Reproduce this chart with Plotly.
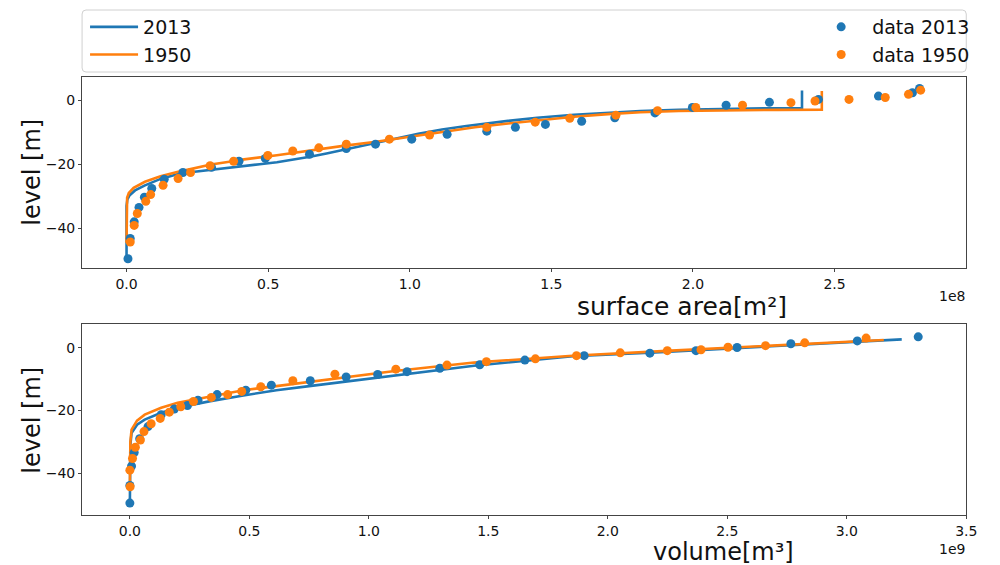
import plotly.graph_objects as go

# ---- fitted hypsometric curves: surface area (1e8 m^2) vs level (m) ----
area_curve_2013 = [0.0, 0.0, 0.0, 0.0, 0.003, 0.01, 0.03, 0.065, 0.12, 0.182, 0.24, 0.298, 0.357,
                   0.415, 0.47, 0.531, 0.59, 0.648, 0.706, 0.765, 0.823, 0.881, 0.95, 1.03, 1.114,
                   1.2, 1.347, 1.45, 1.58, 1.7, 1.814, 1.95, 2.1, 2.25, 2.385, 2.385]
level_area_2013 = [-49.5, -45.0, -40.0, -33.0, -31.0, -29.8, -28.2, -26.6, -24.6, -23.1, -22.35, -21.7, -21.1,
                   -20.5, -20.0, -19.4, -18.6, -17.7, -16.7, -15.6, -14.45, -13.3, -12.0, -10.5, -9.2,
                   -8.1, -6.5, -5.5, -4.6, -3.9, -3.4, -3.0, -2.7, -2.55, -2.5, 3.0]

area_curve_1950 = [0.0, 0.0, 0.0, 0.002, 0.008, 0.025, 0.065, 0.12, 0.182, 0.24, 0.298, 0.357, 0.415,
                   0.531, 0.648, 0.765, 0.881, 1.0, 1.114, 1.23, 1.347, 1.46, 1.58, 1.7, 1.814,
                   1.95, 2.1, 2.3, 2.455, 2.455]
level_area_1950 = [-44.5, -40.0, -32.0, -30.5, -29.0, -27.4, -25.5, -23.8, -22.4, -21.2, -20.1, -19.3, -18.5,
                   -17.2, -15.7, -14.3, -13.0, -11.4, -9.9, -8.5, -7.3, -6.2, -5.2, -4.4, -3.8,
                   -3.4, -3.15, -3.05, -3.0, 2.8]

# ---- measured surface area (1e8 m^2) vs level (m) ----
area_data_2013 = [0.005, 0.013, 0.027, 0.044, 0.063, 0.089, 0.133, 0.199, 0.30, 0.397, 0.49, 0.646,
                  0.776, 0.879, 1.007, 1.132, 1.272, 1.373, 1.479, 1.607, 1.724, 1.866, 1.998, 2.117,
                  2.27, 2.443, 2.655, 2.775, 2.80]
level_adata_2013 = [-49.5, -43.2, -38.0, -33.5, -30.3, -27.6, -24.7, -22.6, -21.0, -19.1, -18.2, -16.9,
                    -15.1, -13.75, -12.2, -10.7, -9.7, -8.5, -7.6, -6.6, -5.5, -4.0, -2.3, -1.6,
                    -0.7, 0.2, 1.25, 2.3, 3.6]

area_data_1950 = [0.013, 0.027, 0.038, 0.068, 0.085, 0.129, 0.182, 0.226, 0.295, 0.378, 0.499, 0.587,
                  0.679, 0.776, 0.928, 1.07, 1.272, 1.443, 1.565, 1.728, 1.875, 2.01, 2.175, 2.346,
                  2.431, 2.551, 2.679, 2.761, 2.804]
level_adata_1950 = [-44.3, -39.1, -35.4, -31.6, -29.5, -26.6, -24.5, -22.6, -20.5, -19.1, -17.3, -15.9,
                    -14.9, -13.75, -12.2, -10.9, -8.5, -6.9, -5.7, -4.7, -3.3, -2.3, -1.6, -0.8,
                    -0.3, 0.2, 0.8, 1.8, 3.1]

# ---- fitted curves: volume (1e9 m^3) vs level (m) ----
vol_curve_2013 = [0.0, 0.0, 0.0, 0.002, 0.007, 0.03, 0.062, 0.131, 0.2, 0.337, 0.475, 0.613, 0.75,
                  0.888, 1.109, 1.44, 1.853, 2.2, 2.555, 2.968, 3.23]
level_vol_2013 = [-49.5, -40.0, -35.0, -31.0, -27.2, -24.5, -22.9, -20.7, -19.1, -17.0, -15.2, -13.5,
                  -12.2, -10.9, -8.9, -5.7, -2.7, -1.5, 0.0, 1.6, 2.7]

vol_curve_1950 = [0.0, 0.0, 0.002, 0.007, 0.03, 0.062, 0.131, 0.2, 0.337, 0.475, 0.613, 0.75, 0.888,
                  1.109, 1.44, 1.853, 2.266, 2.6, 3.0, 3.155]
level_vol_1950 = [-44.0, -38.0, -30.0, -26.1, -23.2, -21.3, -19.1, -17.5, -15.4, -13.5, -12.2, -10.9,
                  -9.5, -7.4, -4.7, -2.5, -0.9, 0.4, 1.9, 2.5]

# ---- measured volume (1e9 m^3) vs level (m) ----
vol_data_2013 = [0.0, 0.0, 0.007, 0.018, 0.041, 0.076, 0.131, 0.186, 0.241, 0.285, 0.365, 0.485,
                 0.592, 0.755, 0.905, 1.037, 1.16, 1.297, 1.464, 1.653, 1.901, 2.176, 2.369, 2.541,
                 2.766, 3.044, 3.299]
level_vdata_2013 = [-49.5, -43.9, -37.7, -33.4, -29.0, -25.1, -21.3, -19.5, -18.4, -16.7, -14.9, -13.5,
                    -11.9, -10.5, -9.3, -8.5, -7.6, -6.5, -5.4, -3.9, -2.5, -1.7, -0.9, 0.1,
                    1.3, 2.2, 3.5]

vol_data_1950 = [0.001, 0.0, 0.011, 0.023, 0.044, 0.059, 0.089, 0.127, 0.165, 0.213, 0.266, 0.341,
                 0.409, 0.468, 0.548, 0.682, 0.858, 1.113, 1.327, 1.492, 1.697, 1.869, 2.052, 2.249,
                 2.39, 2.503, 2.66, 2.824, 3.081]
level_vdata_1950 = [-44.3, -39.0, -35.3, -31.7, -29.4, -26.7, -24.2, -22.5, -20.5, -18.8, -17.1, -15.8,
                    -14.9, -13.9, -12.4, -10.5, -8.4, -6.8, -5.5, -4.4, -3.5, -2.5, -1.6, -0.9,
                    -0.6, 0.2, 0.7, 1.6, 3.1]

area_ticks = [0.0, 0.5, 1.0, 1.5, 2.0, 2.5]
vol_ticks = [0.0, 0.5, 1.0, 1.5, 2.0, 2.5, 3.0, 3.5]
level_ticks = [0, -20, -40]

BLUE = "#1f77b4"
ORANGE = "#ff7f0e"
FONT = "DejaVu Sans"
TEXT = "#111111"
W, H = 1000, 565


def px(x):
    """pixel column -> paper x"""
    return x / W


def py(y):
    """pixel row (from top) -> paper y"""
    return 1 - y / H


fig = go.Figure()

line_kw = dict(mode="lines", line=dict(width=2.6))
dot_kw = dict(mode="markers", marker=dict(size=9, line=dict(width=0)))

# upper panel: surface area
fig.add_trace(go.Scatter(x=area_curve_2013, y=level_area_2013, name="2013", line_color=BLUE,
                         xaxis="x", yaxis="y", legend="legend", **line_kw))
fig.add_trace(go.Scatter(x=area_curve_1950, y=level_area_1950, name="1950", line_color=ORANGE,
                         xaxis="x", yaxis="y", legend="legend", **line_kw))
fig.add_trace(go.Scatter(x=area_data_2013, y=level_adata_2013, name="data 2013", marker_color=BLUE,
                         xaxis="x", yaxis="y", legend="legend2", **dot_kw))
fig.add_trace(go.Scatter(x=area_data_1950, y=level_adata_1950, name="data 1950", marker_color=ORANGE,
                         xaxis="x", yaxis="y", legend="legend2", **dot_kw))

# lower panel: volume
fig.add_trace(go.Scatter(x=vol_curve_2013, y=level_vol_2013, line_color=BLUE, showlegend=False,
                         xaxis="x2", yaxis="y2", **line_kw))
fig.add_trace(go.Scatter(x=vol_curve_1950, y=level_vol_1950, line_color=ORANGE, showlegend=False,
                         xaxis="x2", yaxis="y2", **line_kw))
fig.add_trace(go.Scatter(x=vol_data_2013, y=level_vdata_2013, marker_color=BLUE, showlegend=False,
                         xaxis="x2", yaxis="y2", **dot_kw))
fig.add_trace(go.Scatter(x=vol_data_1950, y=level_vdata_1950, marker_color=ORANGE, showlegend=False,
                         xaxis="x2", yaxis="y2", **dot_kw))

axis_common = dict(showgrid=False, zeroline=False, showline=True, mirror=True, linecolor="#444",
                   linewidth=1, ticks="outside", ticklen=3, tickcolor="#444",
                   tickfont=dict(family=FONT, size=14, color=TEXT))

legend_font = dict(family=FONT, size=19, color=TEXT)

fig.update_layout(
    width=W, height=H, margin=dict(l=0, r=0, t=0, b=0),
    paper_bgcolor="white", plot_bgcolor="white",
    font=dict(family=FONT, color=TEXT),
    xaxis=dict(domain=[px(83), px(977)], anchor="y", range=[-0.157, 2.965],
               tickvals=area_ticks, tickformat=".1f", **axis_common),
    yaxis=dict(domain=[py(268), py(77)], anchor="x", range=[-52.4, 7.2],
               tickvals=level_ticks, **axis_common),
    xaxis2=dict(domain=[px(83), px(977)], anchor="y2", range=[-0.2, 3.5],
                tickvals=vol_ticks, tickformat=".1f", **axis_common),
    yaxis2=dict(domain=[py(515), py(324)], anchor="x2", range=[-53.3, 7.6],
                tickvals=level_ticks, **axis_common),
    legend=dict(x=px(86), y=py(8), xanchor="left", yanchor="top", orientation="v",
                bgcolor="rgba(0,0,0,0)", font=legend_font, itemwidth=48, tracegroupgap=0),
    legend2=dict(x=px(986), y=py(8), xanchor="right", yanchor="top", orientation="v",
                 bgcolor="rgba(0,0,0,0)", font=legend_font, itemwidth=52, tracegroupgap=0),
    showlegend=True,
)

# legend frame with rounded corners spanning the panel width
x0, x1, y0, y1, r = 83, 977, 10, 72, 4
path = (f"M {px(x0 + r)},{py(y0)} L {px(x1 - r)},{py(y0)} "
        f"Q {px(x1)},{py(y0)} {px(x1)},{py(y0 + r)} L {px(x1)},{py(y1 - r)} "
        f"Q {px(x1)},{py(y1)} {px(x1 - r)},{py(y1)} L {px(x0 + r)},{py(y1)} "
        f"Q {px(x0)},{py(y1)} {px(x0)},{py(y1 - r)} L {px(x0)},{py(y0 + r)} "
        f"Q {px(x0)},{py(y0)} {px(x0 + r)},{py(y0)} Z")
fig.add_shape(type="path", path=path, xref="paper", yref="paper",
              line=dict(color="#d0d0d0", width=1), fillcolor="rgba(0,0,0,0)")


def label(text, x, y, size, angle=0, xanchor="center"):
    fig.add_annotation(text=text, x=px(x), y=py(y), xref="paper", yref="paper",
                       xanchor=xanchor, yanchor="middle", textangle=angle, showarrow=False,
                       borderpad=0, font=dict(family=FONT, size=size, color=TEXT))


label("surface area[m²]", 690, 306, 25)
label("volume[m³]", 732, 551.5, 24)
label("1e8", 977, 296, 14, xanchor="right")
label("1e9", 977, 549, 14, xanchor="right")
label("level [m]", 32, 172, 24, angle=-90)
label("level [m]", 32, 420, 24, angle=-90)

fig.write_html("out.html")
